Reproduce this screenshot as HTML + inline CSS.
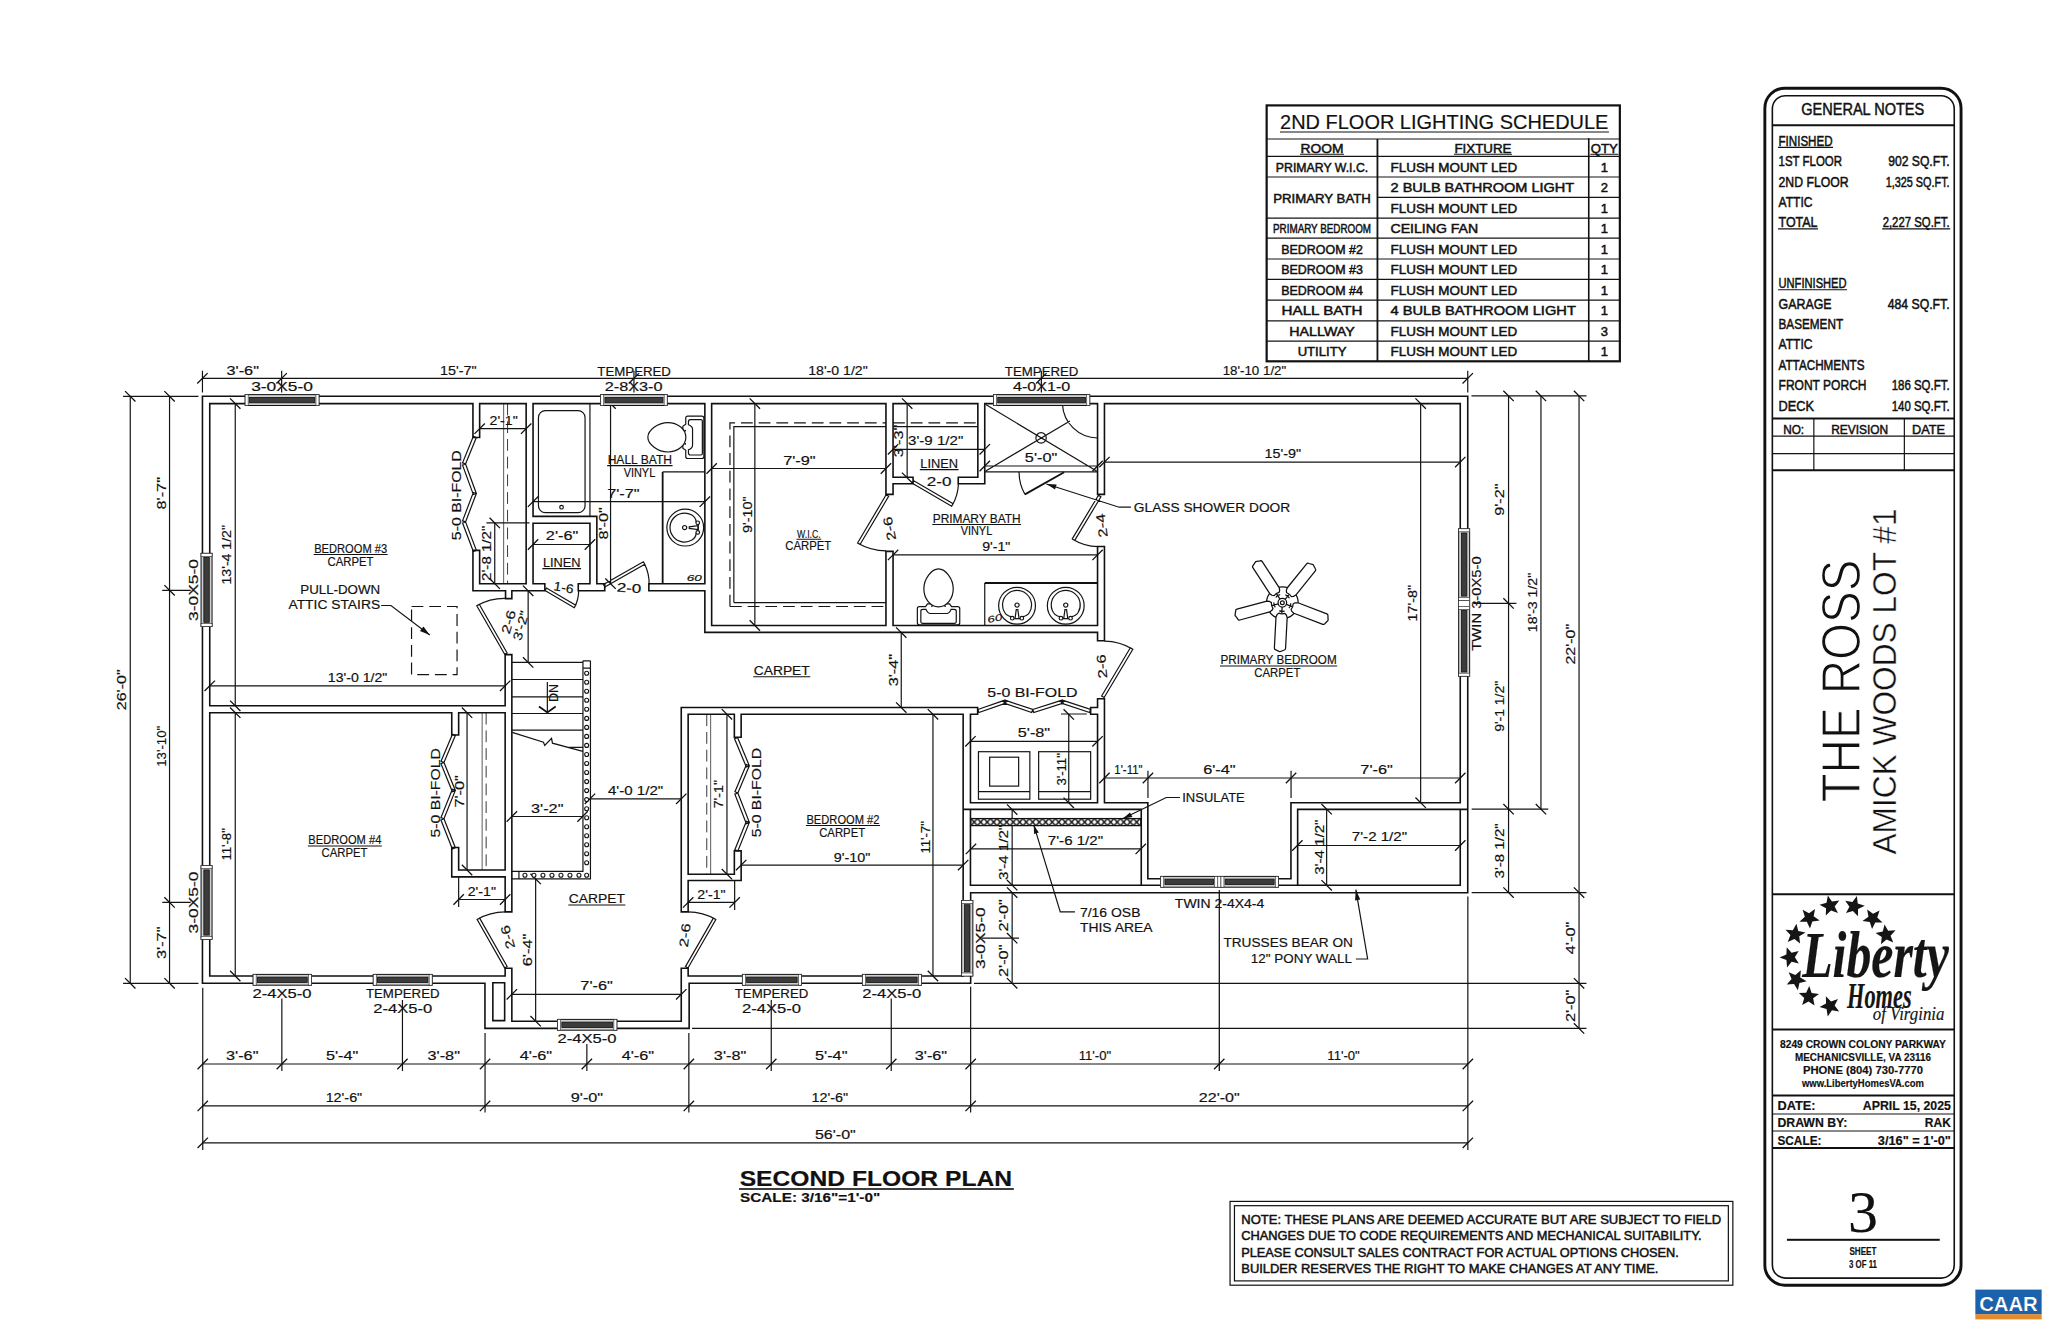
<!DOCTYPE html>
<html lang="en"><head><meta charset="utf-8"><title>Second Floor Plan - The Ross</title><style>
html,body{margin:0;padding:0;background:#fff}
svg{display:block;font-family:"Liberation Sans","DejaVu Sans",sans-serif;font-size:12.6px;fill:#111}
text{stroke:#111;stroke-width:.18}
.w{fill:none;stroke:#111;stroke-width:1.6;stroke-linecap:square}
.t{fill:none;stroke:#141414;stroke-width:1.2}
.k{fill:none;stroke:#111;stroke-width:1.3}
.d{fill:none;stroke:#141414;stroke-width:1.2;stroke-dasharray:11.8 5.9}
.u{fill:none;stroke:#111;stroke-width:1.1}
.b{fill:none;stroke:#111;stroke-width:2}
.g{fill:none;stroke:#111;stroke-width:1.8}
.g2{fill:none;stroke:#111;stroke-width:1.8}
.tn{fill:none;stroke:#141414;stroke-width:1.2}
.tw{fill:#fff;stroke:#141414;stroke-width:1.2}
.tc{fill:#fff;stroke:#141414;stroke-width:1.1}
.wo{fill:#cfcfcf;stroke:#111;stroke-width:1}
.wc{fill:#fff;stroke:#222;stroke-width:.6}
.wd{fill:#3c3c3c;stroke:#111;stroke-width:.8}
.it{font-style:italic}
.c{fill:none;stroke:#4a4a4a;stroke-width:.9}
.cd{fill:none;stroke:#3a3a3a;stroke-width:1;stroke-dasharray:11.8 5.9}
.th1{stroke:#fff;stroke-width:1.3}
.th2{stroke:#fff;stroke-width:.4}
.fn{fill:none;stroke:#111;stroke-width:1.25;stroke-linejoin:round}
.sb{stroke:#111;stroke-width:.5}
.lg{font-family:"Liberation Serif","DejaVu Serif",serif;font-style:italic;font-weight:bold;fill:#151515}
.lg2{font-family:"Liberation Serif","DejaVu Serif",serif;font-style:italic;fill:#151515}
.sr{font-family:"Liberation Serif","DejaVu Serif",serif}
</style></head><body>
<svg width="2048" height="1325" viewBox="0 0 2048 1325">
<defs><pattern id="hx" width="6.5" height="7" patternUnits="userSpaceOnUse" x="970.5" y="818.6"><rect width="6.5" height="7" fill="#fff"/><path d="M0 0L6.5 7M6.5 0L0 7" stroke="#111" stroke-width="1.5"/></pattern></defs>
<g transform="translate(.45 0)">
<path class="c" d="M503.2 403.6L503.2 583.8M481.7 712.7L481.7 870M710.2 714.3L710.2 874.2"/>
<path class="cd" d="M507.1 403.6L507.1 583.8M485.7 712.7L485.7 870M706.3 714.3L706.3 874.2"/>
<path class="t" d="M582.5 668.1L582.5 871.4L511.4 871.4M590 660.8L590 878.9L511.4 878.9M582.5 660.8L590 660.8M582.5 668.1L590 668.1M582.5 660.8L582.5 668.1M518.5 871.4L518.5 878.9M511.4 662.4L582.7 662.4M511.4 679.5L582.7 679.5M511.4 696.8L582.7 696.8M511.4 713.5L582.7 713.5M511.4 730.1L582.7 730.1M511.7 732.4L543 742.3L544.3 745.5L551.1 738.3L552 743.2L582.4 751.4M567.4 747.3L582.4 747.3M546.9 682.1L546.9 712.5M504.2 654.3L476.3 605.7L478.8 604.3L506.7 652.9ZM476.3 605.7A56 56 0 0 1 504.7 598.3M544.5 590.6L573.8 607.8L575.3 605.3L546 588.1ZM573.8 607.8A34 34 0 0 0 578.2 590.6M604.4 586.9L644.3 564.3L642.9 561.8L603 584.4ZM644.3 564.3A45.9 45.9 0 0 1 648.7 584.6M911.8 483.2L951.2 506.3L952.7 503.8L913.3 480.7ZM951.2 506.3A45.7 45.7 0 0 0 958 483.2M885.7 494.8L857.1 543L859.6 544.5L888.2 496.3ZM857.1 543A56 56 0 0 0 885.7 550.8M1098 495.2L1071.8 538.9L1074.3 540.4L1100.5 496.7ZM1071.8 538.9A51 51 0 0 0 1097.5 546.6M1103.7 697.5L1132.4 649.3L1129.9 647.8L1101.2 696ZM1132.4 649.3A56.1 56.1 0 0 0 1104 641.2M504.2 967.9L476.7 919.5L479.2 918.1L506.7 966.5ZM476.7 919.5A55.7 55.7 0 0 1 504.7 911.9M687.5 968L715.4 919.5L712.9 918.1L685 966.6ZM715.4 919.5A56 56 0 0 0 687.7 911.9M1018.6 472.3A45 45 0 0 0 1024.5 494.4M475.9 437.5L465.1 464L462.1 462.8L472.9 436.3ZM465.1 464L475.9 493.5L472.9 494.6L462.1 465.1ZM475.9 493.5L465.1 521.9L462.1 520.8L472.9 492.4ZM465.1 521.9L475.9 550.4L472.9 551.5L462.1 523ZM454.9 735.4L443.5 762.5L440.6 761.3L452 734.2ZM443.5 762.5L454.9 790.4L451.9 791.6L440.5 763.7ZM454.9 790.4L443.5 818.8L440.5 817.6L451.9 789.2ZM443.5 818.8L454.9 847.7L451.9 848.9L440.5 820ZM737.1 737.6L748.9 765.8L745.9 767L734.1 738.8ZM748.9 765.8L737.4 793L734.5 791.8L746 764.6ZM737.4 793L748.9 822.4L745.9 823.6L734.4 794.2ZM748.9 822.4L737.4 850.9L734.4 849.7L745.9 821.2ZM977.4 709.5L1004.5 700.1L1005.5 703.1L978.4 712.5ZM1004.5 700.1L1032.3 709.5L1031.3 712.5L1003.5 703.1ZM1032.3 709.5L1061.8 700.1L1062.8 703.1L1033.3 712.5ZM1061.8 700.1L1090.2 709.5L1089.2 712.5L1060.8 703.1ZM733.4 602.6L733.4 426.7L885.5 426.7M733.4 602.6L885.5 602.6M892.6 426.7L977.4 426.7M380.7 605.5L390.5 605.5L429.3 634.9M589.5 403.6L589.5 516.4M662.2 471.9L704.4 471.9M984.3 583L984.3 625.5M984.3 466L1097.1 466M984.3 471.9L1097.1 471.9M985.3 404.6L1096.1 470.9M985.3 470.9L1069.5 420.9M1062 404.5A35.5 35.5 0 0 0 1097.1 438M1130.5 507.2L1118.7 507.2L1046 484M978 791.6L1029.4 791.6M1038.2 791.6L1090.2 791.6M1179.5 797.5L1165.8 797.5L1122.6 818.5M1074.5 911.9L1059.8 911.9L1033.3 824.9M1355.4 959L1367.2 959L1355.4 889.7M202 378.3L1467.3 378.3M202 370.8L202 392.4M281.2 370.8L281.2 392.4M633.5 370.8L633.5 392.4M1040.9 370.8L1040.9 392.4M1467.3 370.8L1467.3 392.4M202.3 1064L1467.4 1064M202.3 1105.9L1467.4 1105.9M202.3 1142.8L1467.4 1142.8M202.3 987.8L202.3 1150M484.6 1033L484.6 1112.5M688.4 1033L688.4 1112.5M970.2 986.8L970.2 1112.5M1467.4 896.5L1467.4 1150M281.4 998.5L281.4 1071M402 1000L402 1071M586.4 1044L586.4 1071M770.8 1000L770.8 1071M890.8 998.5L890.8 1071M1218.8 890.7L1218.8 1071M1471 395.9L1586 395.9M1473 603.4L1516 603.4M1471.2 809.2L1547.8 809.2M1471.2 892.6L1586 892.6M973.5 983.3L1586 983.3M691.6 1028.4L1586 1028.4M1508.1 395.9L1508.1 892.6M1540.5 395.9L1540.5 809.2M1578.6 395.9L1578.6 1028.4M122.6 396.3L198 396.3M161.8 590.3L190.3 590.3M161.8 902.4L190.3 902.4M122.6 983.3L198 983.3M129.8 396.3L129.8 983.3M169.1 396.3L169.1 983.3M234.8 403.6L234.8 705.8M234.8 712.7L234.8 976M209.3 685.8L504.7 685.8M479.2 428.7L525.7 428.7M486 522.9L529 522.9M494.3 522.9L494.3 583.7M532.6 501.7L704.4 501.7M610.1 403.6L610.1 583.7M532.6 544.5L589.5 544.5M527.7 590.8L527.7 662.4M711.2 468.5L885.5 468.5M754.4 403.6L754.4 625.5M892.6 449.3L984.3 449.3M906.7 403.6L906.7 477.8M1104 462.1L1459.8 462.1M1420.2 403.6L1420.2 802.7M892.6 554.9L1097.1 554.9M900.8 632.6L900.8 707.6M589.5 798.8L680.8 798.8M511.4 816.5L582.1 816.5M466.6 712.7L466.6 870M726.5 714.3L726.5 874.2M458.2 877L458.2 907M458.2 899.5L504.7 899.5M734.2 880.8L734.2 910M687.7 902.4L734.2 902.4M535.2 878.9L535.2 1021.2M511.4 994.3L680.8 994.3M740.7 865.1L962.7 865.1M932.5 714.3L932.5 976M970 741.3L1097.1 741.3M1068.3 714.4L1068.3 802.8M1060.5 714L1086.4 714M1104 778L1459.8 778M1147.5 770.7L1147.5 798M1290.6 770.7L1290.6 798M970.5 848.9L1140.3 848.9M1011.7 809.6L1011.7 885.2M1011.7 892.6L1011.7 983.3M981.3 938.2L1018.6 938.2M1296.9 845.5L1459.8 845.5M1326.2 809.2L1326.2 885.3M1218.9 889.9L1218.9 1071M1266.2 139L1619.4 139M1266.2 156.4L1619.4 156.4M1266.2 177L1619.4 177M1376.6 197.3L1619.4 197.3M1266.2 218.1L1619.4 218.1M1266.2 238.2L1619.4 238.2M1266.2 259L1619.4 259M1266.2 279.3L1619.4 279.3M1266.2 300.1L1619.4 300.1M1266.2 320.8L1619.4 320.8M1266.2 341.2L1619.4 341.2M1771.9 436.1L1953.8 436.1M1771.9 453.6L1953.8 453.6M1771.9 1114L1953.8 1114M1771.9 1131L1953.8 1131M1813.4 418.6L1813.4 470.2M1903.9 418.6L1903.9 470.2"/>
<path class="d" d="M729.5 606.5L729.5 422.8L885.5 422.8M729.5 606.5L885.5 606.5M892.6 422.8L977.4 422.8M411.1 606.5L456.6 606.5L456.6 674.6L411.1 674.6L411.1 606.5"/>
<path class="w" d="M202 396.3L1467.3 396.3L1467.3 892.8L970.2 892.8L970.2 983.3L688.7 983.3L688.7 1028.4L484.5 1028.4L484.5 983.3L202 983.3ZM209.3 403.6L472.5 403.6M479.2 403.6L525.7 403.6M532.6 403.6L704.4 403.6M711.2 403.6L885.5 403.6M892.6 403.6L977.4 403.6M984.3 403.6L1097.1 403.6M1104 403.6L1459.8 403.6M209.3 403.6L209.3 705.8M209.3 712.7L209.3 976M209.3 976L504.7 976L504.7 968.2L511.4 968.2L511.4 1021.2L680.8 1021.2L680.8 968.2L687.7 968.2L687.7 976L962.7 976M1459.8 403.6L1459.8 802.7M1459.8 809.4L1459.8 885.3M492.4 982.8L504.2 982.8L504.2 1020.6L492.4 1020.6ZM472.5 403.6L472.5 437.5L479.2 437.5L479.2 403.6M479.2 583.8L479.2 550.4L472.5 550.4L472.5 590.7L505.1 590.7L505.1 598.6L511.4 598.6L511.4 590.7L544.4 590.7L544.4 583.8L532.6 583.8M479.2 583.8L525.7 583.8L525.7 403.6M532.6 403.6L532.6 516.4L596.4 516.4L596.4 583.8L604.3 583.8L604.3 590.7L577.8 590.7L577.8 583.8L589.5 583.8L589.5 523.3L532.6 523.3L532.6 583.8M704.4 583.8L648.4 583.8L648.4 590.7L704.4 590.7L704.4 632.4L1097.1 632.4L1097.1 640.8L1104 640.8L1104 546.5L1097.1 546.5L1097.1 625.5L892.6 625.5L892.6 551.4L885.5 551.4L885.5 625.5L711.2 625.5L711.2 403.6M704.4 403.6L704.4 583.8M885.5 403.6L885.5 494.4L892.6 494.4L892.6 483.7L912.6 483.7L912.6 477.3L892.6 477.3L892.6 403.6M977.4 403.6L977.4 477.3L957.8 477.3L957.8 483.7L984.3 483.7L984.3 403.6M1097.1 403.6L1097.1 494.4L1104 494.4L1104 403.6M1104 698.7L1097.1 698.7L1097.1 707.5L1090.2 707.5L1090.2 714.3L1097.1 714.3L1097.1 802.7L970 802.7M1104 698.7L1104 802.7L1147.4 802.7L1147.4 878.8L1160.3 878.8M962.7 809.4L1140.8 809.4L1140.8 885.3M970 885.3L1160.3 885.3M1277.9 878.8L1290.5 878.8L1290.5 802.7L1459.8 802.7M1277.9 885.3L1459.8 885.3M1467.3 809.4L1297.2 809.4L1297.2 885.3M962.7 714.3L962.7 976M970 714.3L970 802.7M970 809.4L970 885.3M687.7 911.9L680.8 911.9L680.8 707.5L977.2 707.5L977.2 714.3L970 714.3M687.7 714.3L733.9 714.3L733.9 737.2L740.7 737.2L740.7 714.3L962.7 714.3M687.7 714.3L687.7 874.2L733.9 874.2L733.9 850.9L740.7 850.9L740.7 880.5L687.7 880.5L687.7 911.9M504.7 705.8L504.7 654.6L511.4 654.6L511.4 911.9L504.7 911.9L504.7 876.9L451.3 876.9L451.3 847.5L458.2 847.5L458.2 870L504.7 870L504.7 712.7M209.3 705.8L504.7 705.8M209.3 712.7L451.3 712.7L451.3 735L458.2 735L458.2 712.7L504.7 712.7M1588.3 139L1588.3 361.3"/>
<path class="b" d="M1771.9 125.3L1953.8 125.3M1771.9 418.6L1953.8 418.6M1771.9 470.2L1953.8 470.2M1771.9 894.3L1953.8 894.3M1771.9 1029.6L1953.8 1029.6M1771.9 1095.6L1953.8 1095.6M1771.9 1147.9L1953.8 1147.9"/>
<path class="g" d="M538.5 706.6L546.9 712.5L555.2 706.6M1024.5 494.4L1063.7 472.3"/>
<path class="g2" d="M662.2 471.9L662.2 583.8M984.3 583L1097.1 583M1377 139L1377 361.3"/>
<path class="k" d="M196.8 383.5L207.2 373.1M276 383.5L286.4 373.1M628.3 383.5L638.7 373.1M1035.7 383.5L1046.1 373.1M1462.1 383.5L1472.5 373.1M197.1 1069.2L207.5 1058.8M276.2 1069.2L286.6 1058.8M396.8 1069.2L407.2 1058.8M479.4 1069.2L489.8 1058.8M581.2 1069.2L591.6 1058.8M683.2 1069.2L693.6 1058.8M765.6 1069.2L776 1058.8M885.6 1069.2L896 1058.8M965 1069.2L975.4 1058.8M1213.6 1069.2L1224 1058.8M1462.2 1069.2L1472.6 1058.8M197.1 1111.1L207.5 1100.7M479.4 1111.1L489.8 1100.7M683.2 1111.1L693.6 1100.7M965 1111.1L975.4 1100.7M1462.2 1111.1L1472.6 1100.7M197.1 1148L207.5 1137.6M1462.2 1148L1472.6 1137.6M1502.9 390.7L1513.3 401.1M1502.9 598.2L1513.3 608.6M1502.9 804L1513.3 814.4M1502.9 887.4L1513.3 897.8M1535.3 390.7L1545.7 401.1M1535.3 804L1545.7 814.4M1573.4 390.7L1583.8 401.1M1573.4 887.4L1583.8 897.8M1573.4 978.1L1583.8 988.5M1573.4 1023.2L1583.8 1033.6M124.6 391.1L135 401.5M124.6 978.1L135 988.5M163.9 391.1L174.3 401.5M163.9 585.1L174.3 595.5M163.9 897.2L174.3 907.6M163.9 978.1L174.3 988.5M229.6 398.4L240 408.8M229.6 700.6L240 711M229.6 707.5L240 717.9M229.6 970.8L240 981.2M204.1 691L214.5 680.6M499.5 691L509.9 680.6M474 433.9L484.4 423.5M520.5 433.9L530.9 423.5M489.1 517.7L499.5 528.1M489.1 578.5L499.5 588.9M527.4 506.9L537.8 496.5M699.2 506.9L709.6 496.5M604.9 398.4L615.3 408.8M604.9 578.5L615.3 588.9M527.4 549.7L537.8 539.3M584.3 549.7L594.7 539.3M522.5 585.6L532.9 596M522.5 657.2L532.9 667.6M706 473.7L716.4 463.3M880.3 473.7L890.7 463.3M749.2 398.4L759.6 408.8M749.2 620.3L759.6 630.7M887.4 454.5L897.8 444.1M979.1 454.5L989.5 444.1M901.5 398.4L911.9 408.8M901.5 472.6L911.9 483M979.1 471.2L989.5 460.8M1091.9 471.2L1102.3 460.8M1098.8 467.3L1109.2 456.9M1454.6 467.3L1465 456.9M1415 398.4L1425.4 408.8M1415 797.5L1425.4 807.9M887.4 560.1L897.8 549.7M1091.9 560.1L1102.3 549.7M895.6 627.4L906 637.8M895.6 702.4L906 712.8M584.3 804L594.7 793.6M675.6 804L686 793.6M506.2 821.7L516.6 811.3M576.9 821.7L587.3 811.3M461.4 707.5L471.8 717.9M461.4 864.8L471.8 875.2M721.3 709.1L731.7 719.5M721.3 869L731.7 879.4M453 904.7L463.4 894.3M499.5 904.7L509.9 894.3M682.5 907.6L692.9 897.2M729 907.6L739.4 897.2M530 873.7L540.4 884.1M530 1016L540.4 1026.4M506.2 999.5L516.6 989.1M675.6 999.5L686 989.1M735.5 870.3L745.9 859.9M957.5 870.3L967.9 859.9M927.3 709.1L937.7 719.5M927.3 970.8L937.7 981.2M964.8 746.5L975.2 736.1M1091.9 746.5L1102.3 736.1M1063.1 709.2L1073.5 719.6M1063.1 797.6L1073.5 808M1098.8 783.2L1109.2 772.8M1142.3 783.2L1152.7 772.8M1285.4 783.2L1295.8 772.8M1454.6 783.2L1465 772.8M965.3 854.1L975.7 843.7M1135.1 854.1L1145.5 843.7M1006.5 804.4L1016.9 814.8M1006.5 880L1016.9 890.4M1006.5 887.4L1016.9 897.8M1006.5 933L1016.9 943.4M1006.5 978.1L1016.9 988.5M1291.7 850.7L1302.1 840.3M1454.6 850.7L1465 840.3M1321 804L1331.4 814.4M1321 880.1L1331.4 890.5"/>
<path class="u" d="M313.2 554.5L387.2 554.5M606.7 465.6L672.1 465.6M541.9 568.6L580.6 568.6M796.1 539.2L820.7 539.2M919.4 469.6L958.1 469.6M931.8 524.5L1020.6 524.5M752.8 676.8L809.8 676.8M567.9 905L624.9 905M307.4 846L381.4 846M805.5 825.5L879.5 825.5M1219.5 666L1336.7 666M1279.5 132L1608.5 132M1299.6 154.3L1343.6 154.3M1453.5 154.3L1511.5 154.3M1589.9 154.3L1617.9 154.3M1777.6 147.4L1832.6 147.4M1777.6 228.9L1817.6 228.9M1881.7 228.9L1949.7 228.9M1777.6 289.8L1846.6 289.8"/>
<circle cx="586.2" cy="673.2" r="2" class="tc"/>
<circle cx="586.2" cy="682.2" r="2" class="tc"/>
<circle cx="586.2" cy="691.3" r="2" class="tc"/>
<circle cx="586.2" cy="700.3" r="2" class="tc"/>
<circle cx="586.2" cy="709.3" r="2" class="tc"/>
<circle cx="586.2" cy="718.4" r="2" class="tc"/>
<circle cx="586.2" cy="727.4" r="2" class="tc"/>
<circle cx="586.2" cy="736.4" r="2" class="tc"/>
<circle cx="586.2" cy="745.4" r="2" class="tc"/>
<circle cx="586.2" cy="754.5" r="2" class="tc"/>
<circle cx="586.2" cy="763.5" r="2" class="tc"/>
<circle cx="586.2" cy="772.5" r="2" class="tc"/>
<circle cx="586.2" cy="781.6" r="2" class="tc"/>
<circle cx="586.2" cy="790.6" r="2" class="tc"/>
<circle cx="586.2" cy="799.6" r="2" class="tc"/>
<circle cx="586.2" cy="808.7" r="2" class="tc"/>
<circle cx="586.2" cy="817.7" r="2" class="tc"/>
<circle cx="586.2" cy="826.7" r="2" class="tc"/>
<circle cx="586.2" cy="835.7" r="2" class="tc"/>
<circle cx="586.2" cy="844.8" r="2" class="tc"/>
<circle cx="586.2" cy="853.8" r="2" class="tc"/>
<circle cx="586.2" cy="862.8" r="2" class="tc"/>
<circle cx="524.5" cy="875.2" r="2" class="tc"/>
<circle cx="533.5" cy="875.2" r="2" class="tc"/>
<circle cx="542.5" cy="875.2" r="2" class="tc"/>
<circle cx="551.5" cy="875.2" r="2" class="tc"/>
<circle cx="560.5" cy="875.2" r="2" class="tc"/>
<circle cx="569.5" cy="875.2" r="2" class="tc"/>
<circle cx="578.5" cy="875.2" r="2" class="tc"/>
<circle cx="586.2" cy="875.2" r="2" class="tc"/>
<path d="M429.3 634.9L419.5 631L423 626.5Z" fill="#111"/>
<rect x="244.7" y="394.6" width="73.8" height="10.9" class="wo"/>
<rect x="244.7" y="394.6" width="3" height="10.9" class="wc"/>
<rect x="315.5" y="394.6" width="3" height="10.9" class="wc"/>
<rect x="248.9" y="397.4" width="65.4" height="5.4" class="wd"/>
<rect x="600.3" y="394.6" width="66.4" height="10.9" class="wo"/>
<rect x="600.3" y="394.6" width="3" height="10.9" class="wc"/>
<rect x="663.7" y="394.6" width="3" height="10.9" class="wc"/>
<rect x="604.5" y="397.4" width="58" height="5.4" class="wd"/>
<rect x="993.1" y="394.6" width="96.2" height="10.9" class="wo"/>
<rect x="993.1" y="394.6" width="3" height="10.9" class="wc"/>
<rect x="1086.3" y="394.6" width="3" height="10.9" class="wc"/>
<rect x="997.3" y="397.4" width="87.8" height="5.4" class="wd"/>
<rect x="200.6" y="553.3" width="11" height="73.2" class="wo"/>
<rect x="200.6" y="553.3" width="11" height="3" class="wc"/>
<rect x="200.6" y="623.5" width="11" height="3" class="wc"/>
<rect x="203.4" y="557.5" width="5.4" height="64.8" class="wd"/>
<rect x="200.6" y="865.7" width="11" height="73.6" class="wo"/>
<rect x="200.6" y="865.7" width="11" height="3" class="wc"/>
<rect x="200.6" y="936.3" width="11" height="3" class="wc"/>
<rect x="203.4" y="869.9" width="5.4" height="65.2" class="wd"/>
<rect x="252.7" y="974.4" width="58.3" height="10.8" class="wo"/>
<rect x="252.7" y="974.4" width="3" height="10.8" class="wc"/>
<rect x="308" y="974.4" width="3" height="10.8" class="wc"/>
<rect x="256.9" y="977.1" width="49.9" height="5.4" class="wd"/>
<rect x="372.8" y="974.4" width="58.9" height="10.8" class="wo"/>
<rect x="372.8" y="974.4" width="3" height="10.8" class="wc"/>
<rect x="428.7" y="974.4" width="3" height="10.8" class="wc"/>
<rect x="377" y="977.1" width="50.5" height="5.4" class="wd"/>
<rect x="557.2" y="1019.4" width="59.2" height="10.8" class="wo"/>
<rect x="557.2" y="1019.4" width="3" height="10.8" class="wc"/>
<rect x="613.4" y="1019.4" width="3" height="10.8" class="wc"/>
<rect x="561.4" y="1022.1" width="50.8" height="5.4" class="wd"/>
<rect x="742" y="974.4" width="58.9" height="10.8" class="wo"/>
<rect x="742" y="974.4" width="3" height="10.8" class="wc"/>
<rect x="797.9" y="974.4" width="3" height="10.8" class="wc"/>
<rect x="746.2" y="977.1" width="50.5" height="5.4" class="wd"/>
<rect x="862" y="974.4" width="58.9" height="10.8" class="wo"/>
<rect x="862" y="974.4" width="3" height="10.8" class="wc"/>
<rect x="917.9" y="974.4" width="3" height="10.8" class="wc"/>
<rect x="866.2" y="977.1" width="50.5" height="5.4" class="wd"/>
<rect x="961.2" y="900.5" width="11.2" height="75.5" class="wo"/>
<rect x="961.2" y="900.5" width="11.2" height="3" class="wc"/>
<rect x="961.2" y="973" width="11.2" height="3" class="wc"/>
<rect x="964.1" y="904.7" width="5.4" height="67.1" class="wd"/>
<rect x="1458.2" y="528.8" width="11" height="147.4" class="wo"/>
<rect x="1458.2" y="600.3" width="11" height="6" class="wc"/>
<rect x="1458.2" y="528.8" width="11" height="3" class="wc"/>
<rect x="1458.2" y="597.3" width="11" height="3" class="wc"/>
<rect x="1461" y="533" width="5.4" height="63.1" class="wd"/>
<rect x="1458.2" y="606.3" width="11" height="3" class="wc"/>
<rect x="1458.2" y="673.2" width="11" height="3" class="wc"/>
<rect x="1461" y="610.5" width="5.4" height="61.5" class="wd"/>
<rect x="1160.3" y="876.4" width="117.6" height="10.8" class="wo"/>
<rect x="1217.3" y="876.4" width="3.2" height="10.8" class="wc"/>
<rect x="1160.3" y="876.4" width="3" height="10.8" class="wc"/>
<rect x="1214.3" y="876.4" width="3" height="10.8" class="wc"/>
<rect x="1164.5" y="879.1" width="48.6" height="5.4" class="wd"/>
<rect x="1220.5" y="876.4" width="3" height="10.8" class="wc"/>
<rect x="1274.9" y="876.4" width="3" height="10.8" class="wc"/>
<rect x="1224.7" y="879.1" width="49" height="5.4" class="wd"/>
<rect x="538" y="410.6" width="46.6" height="102.1" rx="7" class="tn"/>
<circle cx="561.1" cy="507.2" r="1.8" class="tn"/>
<g transform="translate(666.4 437.3)"><path d="M18.9 -19.2Q18.9 -21.2 20.9 -21.2H35Q37 -21.2 37 -19.2V19.2Q37 21.2 35 21.2H20.9Q18.9 21.2 18.9 19.2V13L16 11V-11L18.9 -13Z" class="tw"/><path d="M23.4 -17.7H34Q35.5 -17.7 35.5 -16.2V16.2Q35.5 17.7 34 17.7H23.4Q21.6 17.7 21.6 15.5V12.5Q25.7 11 25.7 8V-8Q25.7 -11 21.6 -12.5V-15.5Q21.6 -17.7 23.4 -17.7Z" class="tn"/><path d="M19 0C19 8.5 10.5 14.7 1 14.7C-9 14.7 -19 7 -19 0C-19 -7 -9 -14.7 1 -14.7C10.5 -14.7 19 -8.5 19 0Z" class="tw"/><circle cx="18.3" cy="-6.6" r=".9" fill="#111"/><circle cx="18.3" cy="6.6" r=".9" fill="#111"/></g>
<g transform="translate(684.8 527.6) rotate(-90)" class="tn"><circle r="18.4"/><path d="M-5.5 10.9Q-10 10.6 -12.5 6.6A14.5 14.5 0 1 1 12.5 6.6Q10 10.6 5.5 10.9"/><circle cx="0" cy="-.6" r="2.1"/><path d="M-.8 4H.8L2 12.8H-2Z"/><path d="M-3 13H3"/><circle cx="-4.8" cy="12.5" r="1.8" fill="#fff"/><circle cx="4.8" cy="12.5" r="1.8" fill="#fff"/></g>
<g transform="translate(938.1 587.8) rotate(90)"><path d="M18.9 -19.2Q18.9 -21.2 20.9 -21.2H35Q37 -21.2 37 -19.2V19.2Q37 21.2 35 21.2H20.9Q18.9 21.2 18.9 19.2V13L16 11V-11L18.9 -13Z" class="tw"/><path d="M23.4 -17.7H34Q35.5 -17.7 35.5 -16.2V16.2Q35.5 17.7 34 17.7H23.4Q21.6 17.7 21.6 15.5V12.5Q25.7 11 25.7 8V-8Q25.7 -11 21.6 -12.5V-15.5Q21.6 -17.7 23.4 -17.7Z" class="tn"/><path d="M19 0C19 8.5 10.5 14.7 1 14.7C-9 14.7 -19 7 -19 0C-19 -7 -9 -14.7 1 -14.7C10.5 -14.7 19 -8.5 19 0Z" class="tw"/><circle cx="18.3" cy="-6.6" r=".9" fill="#111"/><circle cx="18.3" cy="6.6" r=".9" fill="#111"/></g>
<g transform="translate(1016.6 605.7) rotate(0)" class="tn"><circle r="18.4"/><path d="M-5.5 10.9Q-10 10.6 -12.5 6.6A14.5 14.5 0 1 1 12.5 6.6Q10 10.6 5.5 10.9"/><circle cx="0" cy="-.6" r="2.1"/><path d="M-.8 4H.8L2 12.8H-2Z"/><path d="M-3 13H3"/><circle cx="-4.8" cy="12.5" r="1.8" fill="#fff"/><circle cx="4.8" cy="12.5" r="1.8" fill="#fff"/></g>
<g transform="translate(1065.3 605.7) rotate(0)" class="tn"><circle r="18.4"/><path d="M-5.5 10.9Q-10 10.6 -12.5 6.6A14.5 14.5 0 1 1 12.5 6.6Q10 10.6 5.5 10.9"/><circle cx="0" cy="-.6" r="2.1"/><path d="M-.8 4H.8L2 12.8H-2Z"/><path d="M-3 13H3"/><circle cx="-4.8" cy="12.5" r="1.8" fill="#fff"/><circle cx="4.8" cy="12.5" r="1.8" fill="#fff"/></g>
<circle cx="1040.6" cy="437.9" r="5.2" class="tn"/>
<path d="M1046 484L1056.2 484.6L1054.6 489.4Z" fill="#111"/>
<rect x="978" y="751.7" width="51.4" height="47.5" class="tn"/>
<rect x="989.2" y="757.2" width="29" height="28.9" class="tw"/>
<rect x="1038.2" y="751.7" width="52" height="47.5" class="tn"/>
<rect x="970.5" y="818.6" width="169.8" height="7" fill="url(#hx)" stroke="#111" stroke-width="1.3"/>
<path d="M1122.6 818.5L1129.5 812.5L1132 817Z" fill="#111"/>
<path d="M1033.3 824.9L1033.6 834L1038.4 832.5Z" fill="#111"/>
<path d="M1355.4 889.7L1354.6 900.5L1359.8 899.6Z" fill="#111"/>
<g transform="translate(1281.9 602.8)" class="fn"><circle r="15.8"/><path transform="rotate(21)" d="M10.5 -3L12 -4.6L14.5 -5.6H45.5Q47 -5.6 47.3 -4L49 0L47.3 4Q47 5.6 45.5 5.6H14.5L12 4.6L10.5 3Q11.6 0 10.5 -3Z" fill="#fff"/><path transform="rotate(93)" d="M10.5 -3L12 -4.6L14.5 -5.6H45.5Q47 -5.6 47.3 -4L49 0L47.3 4Q47 5.6 45.5 5.6H14.5L12 4.6L10.5 3Q11.6 0 10.5 -3Z" fill="#fff"/><path transform="rotate(165)" d="M10.5 -3L12 -4.6L14.5 -5.6H45.5Q47 -5.6 47.3 -4L49 0L47.3 4Q47 5.6 45.5 5.6H14.5L12 4.6L10.5 3Q11.6 0 10.5 -3Z" fill="#fff"/><path transform="rotate(237)" d="M10.5 -3L12 -4.6L14.5 -5.6H45.5Q47 -5.6 47.3 -4L49 0L47.3 4Q47 5.6 45.5 5.6H14.5L12 4.6L10.5 3Q11.6 0 10.5 -3Z" fill="#fff"/><path transform="rotate(309)" d="M10.5 -3L12 -4.6L14.5 -5.6H45.5Q47 -5.6 47.3 -4L49 0L47.3 4Q47 5.6 45.5 5.6H14.5L12 4.6L10.5 3Q11.6 0 10.5 -3Z" fill="#fff"/><circle r="4.3"/><circle r="1.9"/><path transform="rotate(21)" d="M4.3 0H10.6M8 -2.6Q9.4 0 8 2.6"/><path transform="rotate(93)" d="M4.3 0H10.6M8 -2.6Q9.4 0 8 2.6"/><path transform="rotate(165)" d="M4.3 0H10.6M8 -2.6Q9.4 0 8 2.6"/><path transform="rotate(237)" d="M4.3 0H10.6M8 -2.6Q9.4 0 8 2.6"/><path transform="rotate(309)" d="M4.3 0H10.6M8 -2.6Q9.4 0 8 2.6"/></g>
<rect x="738.6" y="1188.2" width="274.8" height="1.6" fill="#111"/>
<rect x="1266.2" y="105.4" width="353.2" height="255.9" fill="none" stroke="#111" stroke-width="2.2"/>
<rect x="1764.4" y="88.2" width="196.2" height="1197" rx="20" fill="none" stroke="#111" stroke-width="2.9"/>
<rect x="1771.9" y="95.7" width="181.9" height="1182.4" rx="13" fill="none" stroke="#111" stroke-width="1.6"/>
<path d="M1827.4 895.5L1831.5 901.6L1838.8 900.6L1834.2 906.4L1837.5 913L1830.6 910.5L1825.3 915.6L1825.6 908.2L1819.1 904.8L1826.1 902.8Z" fill="#151515"/>
<path d="M1856.4 896.1L1857.3 903.4L1864.3 905.8L1857.6 908.9L1857.5 916.3L1852.5 910.9L1845.5 913.1L1849 906.7L1844.8 900.7L1852 902.1Z" fill="#151515"/>
<path d="M1879.1 910.4L1876.8 917.4L1882.1 922.5L1874.8 922.5L1871.6 929.1L1869.3 922.1L1862 921.1L1868 916.8L1866.7 909.5L1872.6 913.8Z" fill="#151515"/>
<path d="M1895.1 930.3L1890.1 935.7L1892.8 942.6L1886.1 939.5L1880.5 944.2L1881.3 936.9L1875.1 933L1882.3 931.5L1884.1 924.4L1887.7 930.8Z" fill="#151515"/>
<path d="M1802.2 909.7L1808.6 913.2L1814.6 909L1813.2 916.2L1819.2 920.6L1811.9 921.5L1809.5 928.5L1806.4 921.8L1799 921.8L1804.4 916.7Z" fill="#151515"/>
<path d="M1785.1 929.7L1792.4 930.2L1796 923.8L1797.8 930.9L1805 932.4L1798.8 936.3L1799.6 943.6L1794 938.9L1787.3 941.9L1790 935.1Z" fill="#151515"/>
<path d="M1779.1 957.5L1785.9 954.6L1786.3 947.3L1791.1 952.8L1798.2 950.9L1794.4 957.2L1798.4 963.4L1791.2 961.7L1786.6 967.4L1786 960.1Z" fill="#151515"/>
<path d="M1786.3 984.6L1791.1 979L1788.2 972.3L1794.9 975.1L1800.4 970.2L1799.8 977.6L1806.2 981.3L1799 983L1797.4 990.2L1793.6 983.9Z" fill="#151515"/>
<path d="M1801.7 1005L1803.8 997.9L1798.4 993L1805.7 992.8L1808.8 986.1L1811.2 993.1L1818.5 993.9L1812.7 998.3L1814.1 1005.6L1808.1 1001.4Z" fill="#151515"/>
<path d="M1827.3 1016.4L1826.1 1009.1L1819.1 1007L1825.6 1003.6L1825.4 996.3L1830.6 1001.4L1837.5 999L1834.2 1005.5L1838.7 1011.4L1831.5 1010.3Z" fill="#151515"/>
<rect x="1786.5" y="1238.8" width="152.8" height="2" fill="#111"/>
<rect x="1229.6" y="1201.4" width="502.8" height="83.8" fill="none" stroke="#111" stroke-width="1.2"/>
<rect x="1234" y="1205.7" width="493.9" height="75.2" fill="none" stroke="#111" stroke-width="1.2"/>
<rect x="1974.9" y="1289.6" width="66.3" height="24.8" fill="#1b62ae"/><rect x="1974.9" y="1314.2" width="66.3" height="5.2" fill="#e38a2d"/>
<text x="693.8" y="581" text-anchor="middle" font-size="9" textLength="15" lengthAdjust="spacingAndGlyphs" class="it">60</text>
<text text-anchor="middle" font-size="9" textLength="15" lengthAdjust="spacingAndGlyphs" class="it" transform="translate(995 621.5) rotate(-12)">60</text>
<text x="242.3" y="374.6" text-anchor="middle" textLength="32.4" lengthAdjust="spacingAndGlyphs">3'-6&quot;</text>
<text x="457.9" y="374.6" text-anchor="middle" textLength="36.6" lengthAdjust="spacingAndGlyphs">15'-7&quot;</text>
<text x="837.5" y="374.6" text-anchor="middle" textLength="59.4" lengthAdjust="spacingAndGlyphs">18'-0 1/2&quot;</text>
<text x="1254" y="374.6" text-anchor="middle" textLength="63.6" lengthAdjust="spacingAndGlyphs">18'-10 1/2&quot;</text>
<text x="241.8" y="1060" text-anchor="middle" textLength="32.4" lengthAdjust="spacingAndGlyphs">3'-6&quot;</text>
<text x="341.7" y="1060" text-anchor="middle" textLength="32.4" lengthAdjust="spacingAndGlyphs">5'-4&quot;</text>
<text x="443.3" y="1060" text-anchor="middle" textLength="32.4" lengthAdjust="spacingAndGlyphs">3'-8&quot;</text>
<text x="535.5" y="1060" text-anchor="middle" textLength="32.4" lengthAdjust="spacingAndGlyphs">4'-6&quot;</text>
<text x="637.4" y="1060" text-anchor="middle" textLength="32.4" lengthAdjust="spacingAndGlyphs">4'-6&quot;</text>
<text x="729.6" y="1060" text-anchor="middle" textLength="32.4" lengthAdjust="spacingAndGlyphs">3'-8&quot;</text>
<text x="830.8" y="1060" text-anchor="middle" textLength="32.4" lengthAdjust="spacingAndGlyphs">5'-4&quot;</text>
<text x="930.5" y="1060" text-anchor="middle" textLength="32.4" lengthAdjust="spacingAndGlyphs">3'-6&quot;</text>
<text x="1094.5" y="1060" text-anchor="middle" textLength="32.4" lengthAdjust="spacingAndGlyphs">11'-0&quot;</text>
<text x="1343.1" y="1060" text-anchor="middle" textLength="32.4" lengthAdjust="spacingAndGlyphs">11'-0&quot;</text>
<text x="343.5" y="1101.8" text-anchor="middle" textLength="36.6" lengthAdjust="spacingAndGlyphs">12'-6&quot;</text>
<text x="586.5" y="1101.8" text-anchor="middle" textLength="32.4" lengthAdjust="spacingAndGlyphs">9'-0&quot;</text>
<text x="829.3" y="1101.8" text-anchor="middle" textLength="36.6" lengthAdjust="spacingAndGlyphs">12'-6&quot;</text>
<text x="1218.8" y="1101.8" text-anchor="middle" textLength="40.8" lengthAdjust="spacingAndGlyphs">22'-0&quot;</text>
<text x="834.9" y="1138.7" text-anchor="middle" textLength="40.8" lengthAdjust="spacingAndGlyphs">56'-0&quot;</text>
<text text-anchor="middle" textLength="32.4" lengthAdjust="spacingAndGlyphs" transform="translate(1504 499.6) rotate(-90)">9'-2&quot;</text>
<text text-anchor="middle" textLength="51" lengthAdjust="spacingAndGlyphs" transform="translate(1504 706.3) rotate(-90)">9'-1 1/2&quot;</text>
<text text-anchor="middle" textLength="55.2" lengthAdjust="spacingAndGlyphs" transform="translate(1504 850.9) rotate(-90)">3'-8 1/2&quot;</text>
<text text-anchor="middle" textLength="59.4" lengthAdjust="spacingAndGlyphs" transform="translate(1536.5 602.5) rotate(-90)">18'-3 1/2&quot;</text>
<text text-anchor="middle" textLength="40.8" lengthAdjust="spacingAndGlyphs" transform="translate(1574.6 644.2) rotate(-90)">22'-0&quot;</text>
<text text-anchor="middle" textLength="32.4" lengthAdjust="spacingAndGlyphs" transform="translate(1574.6 938) rotate(-90)">4'-0&quot;</text>
<text text-anchor="middle" textLength="32.4" lengthAdjust="spacingAndGlyphs" transform="translate(1574.6 1005.9) rotate(-90)">2'-0&quot;</text>
<text text-anchor="middle" textLength="40.8" lengthAdjust="spacingAndGlyphs" transform="translate(125.8 689.8) rotate(-90)">26'-0&quot;</text>
<text text-anchor="middle" textLength="32.4" lengthAdjust="spacingAndGlyphs" transform="translate(165.1 493.3) rotate(-90)">8'-7&quot;</text>
<text text-anchor="middle" textLength="40.8" lengthAdjust="spacingAndGlyphs" transform="translate(165.1 746.3) rotate(-90)">13'-10&quot;</text>
<text text-anchor="middle" textLength="32.4" lengthAdjust="spacingAndGlyphs" transform="translate(165.1 942.8) rotate(-90)">3'-7&quot;</text>
<text text-anchor="middle" textLength="59.4" lengthAdjust="spacingAndGlyphs" transform="translate(231 554.8) rotate(-90)">13'-4 1/2&quot;</text>
<text text-anchor="middle" textLength="32.4" lengthAdjust="spacingAndGlyphs" transform="translate(231 844.4) rotate(-90)">11'-8&quot;</text>
<text x="357.1" y="681.6" text-anchor="middle" textLength="59.4" lengthAdjust="spacingAndGlyphs">13'-0 1/2&quot;</text>
<text x="503.2" y="424.8" text-anchor="middle" textLength="28.2" lengthAdjust="spacingAndGlyphs">2'-1&quot;</text>
<text text-anchor="middle" textLength="55.2" lengthAdjust="spacingAndGlyphs" transform="translate(490.6 553.3) rotate(-90)">2'-8 1/2&quot;</text>
<text x="622.9" y="497.5" text-anchor="middle" textLength="32.4" lengthAdjust="spacingAndGlyphs">7'-7&quot;</text>
<text text-anchor="middle" textLength="32.4" lengthAdjust="spacingAndGlyphs" transform="translate(607.2 523.4) rotate(-90)">8'-0&quot;</text>
<text x="561.6" y="539.8" text-anchor="middle" textLength="32.4" lengthAdjust="spacingAndGlyphs">2'-6&quot;</text>
<text x="798.9" y="465" text-anchor="middle" textLength="32.4" lengthAdjust="spacingAndGlyphs">7'-9&quot;</text>
<text text-anchor="middle" textLength="36.6" lengthAdjust="spacingAndGlyphs" transform="translate(751.5 514.6) rotate(-90)">9'-10&quot;</text>
<text x="935.2" y="445.4" text-anchor="middle" textLength="55.2" lengthAdjust="spacingAndGlyphs">3'-9 1/2&quot;</text>
<text text-anchor="middle" textLength="32.4" lengthAdjust="spacingAndGlyphs" transform="translate(902.6 441) rotate(-90)">3'-3&quot;</text>
<text x="1040.6" y="462" text-anchor="middle" textLength="32.4" lengthAdjust="spacingAndGlyphs">5'-0&quot;</text>
<text x="1282.4" y="457.8" text-anchor="middle" textLength="36.6" lengthAdjust="spacingAndGlyphs">15'-9&quot;</text>
<text text-anchor="middle" textLength="36.6" lengthAdjust="spacingAndGlyphs" transform="translate(1417 603.1) rotate(-90)">17'-8&quot;</text>
<text x="995.8" y="550.5" text-anchor="middle" textLength="28.2" lengthAdjust="spacingAndGlyphs">9'-1&quot;</text>
<text text-anchor="middle" textLength="32.4" lengthAdjust="spacingAndGlyphs" transform="translate(897.6 670.1) rotate(-90)">3'-4&quot;</text>
<text x="635.1" y="794.9" text-anchor="middle" textLength="55.2" lengthAdjust="spacingAndGlyphs">4'-0 1/2&quot;</text>
<text x="546.8" y="812.6" text-anchor="middle" textLength="32.4" lengthAdjust="spacingAndGlyphs">3'-2&quot;</text>
<text text-anchor="middle" textLength="32.4" lengthAdjust="spacingAndGlyphs" transform="translate(463.2 791.4) rotate(-90)">7'-0&quot;</text>
<text text-anchor="middle" textLength="28.2" lengthAdjust="spacingAndGlyphs" transform="translate(722.8 794.2) rotate(-90)">7'-1&quot;</text>
<text x="481.4" y="895.6" text-anchor="middle" textLength="28.2" lengthAdjust="spacingAndGlyphs">2'-1&quot;</text>
<text x="711" y="898.5" text-anchor="middle" textLength="28.2" lengthAdjust="spacingAndGlyphs">2'-1&quot;</text>
<text text-anchor="middle" textLength="32.4" lengthAdjust="spacingAndGlyphs" transform="translate(531.8 950) rotate(-90)">6'-4&quot;</text>
<text x="596.1" y="990.4" text-anchor="middle" textLength="32.4" lengthAdjust="spacingAndGlyphs">7'-6&quot;</text>
<text x="851.7" y="862" text-anchor="middle" textLength="36.6" lengthAdjust="spacingAndGlyphs">9'-10&quot;</text>
<text text-anchor="middle" textLength="32.4" lengthAdjust="spacingAndGlyphs" transform="translate(929.6 837.4) rotate(-90)">11'-7&quot;</text>
<text x="1033.5" y="737" text-anchor="middle" textLength="32.4" lengthAdjust="spacingAndGlyphs">5'-8&quot;</text>
<text text-anchor="middle" textLength="32.4" lengthAdjust="spacingAndGlyphs" transform="translate(1065.7 769.4) rotate(-90)">3'-11&quot;</text>
<text x="1128" y="774" text-anchor="middle" textLength="28.2" lengthAdjust="spacingAndGlyphs">1'-11&quot;</text>
<text x="1218.9" y="774" text-anchor="middle" textLength="32.4" lengthAdjust="spacingAndGlyphs">6'-4&quot;</text>
<text x="1376.1" y="774" text-anchor="middle" textLength="32.4" lengthAdjust="spacingAndGlyphs">7'-6&quot;</text>
<text x="1075" y="845.1" text-anchor="middle" textLength="55.2" lengthAdjust="spacingAndGlyphs">7'-6 1/2&quot;</text>
<text text-anchor="middle" textLength="55.2" lengthAdjust="spacingAndGlyphs" transform="translate(1008 852.4) rotate(-90)">3'-4 1/2&quot;</text>
<text text-anchor="middle" textLength="32.4" lengthAdjust="spacingAndGlyphs" transform="translate(1008 915.4) rotate(-90)">2'-0&quot;</text>
<text text-anchor="middle" textLength="32.4" lengthAdjust="spacingAndGlyphs" transform="translate(1008 960.8) rotate(-90)">2'-0&quot;</text>
<text x="1379" y="841" text-anchor="middle" textLength="55.2" lengthAdjust="spacingAndGlyphs">7'-2 1/2&quot;</text>
<text text-anchor="middle" textLength="55.2" lengthAdjust="spacingAndGlyphs" transform="translate(1323.4 847.2) rotate(-90)">3'-4 1/2&quot;</text>
<text x="350.2" y="552.9" text-anchor="middle" textLength="73" lengthAdjust="spacingAndGlyphs">BEDROOM #3</text>
<text x="350" y="566.1" text-anchor="middle" textLength="46" lengthAdjust="spacingAndGlyphs">CARPET</text>
<text x="299.8" y="594" textLength="79.9" lengthAdjust="spacingAndGlyphs">PULL-DOWN</text>
<text x="288" y="609.3" textLength="91.7" lengthAdjust="spacingAndGlyphs">ATTIC STAIRS</text>
<text text-anchor="middle" textLength="89.9" lengthAdjust="spacingAndGlyphs" transform="translate(460.7 495.2) rotate(-90)">5-0 BI-FOLD</text>
<text x="639.4" y="464" text-anchor="middle" textLength="64.4" lengthAdjust="spacingAndGlyphs">HALL BATH</text>
<text x="639" y="476.8" text-anchor="middle" textLength="31.6" lengthAdjust="spacingAndGlyphs">VINYL</text>
<text x="561.3" y="567" text-anchor="middle" textLength="37.7" lengthAdjust="spacingAndGlyphs">LINEN</text>
<text text-anchor="middle" textLength="20" lengthAdjust="spacingAndGlyphs" transform="translate(562.5 591.8) rotate(10)">1-6</text>
<text text-anchor="middle" textLength="24.6" lengthAdjust="spacingAndGlyphs" transform="translate(628.3 592.4) rotate(4)">2-0</text>
<text x="808.4" y="537.6" text-anchor="middle" font-size="11" textLength="23.6" lengthAdjust="spacingAndGlyphs">W.I.C.</text>
<text x="807.8" y="550.4" text-anchor="middle" textLength="46" lengthAdjust="spacingAndGlyphs">CARPET</text>
<text x="938.7" y="468" text-anchor="middle" textLength="37.7" lengthAdjust="spacingAndGlyphs">LINEN</text>
<text x="938.7" y="485.6" text-anchor="middle" textLength="24.6" lengthAdjust="spacingAndGlyphs">2-0</text>
<text x="976.2" y="522.9" text-anchor="middle" textLength="87.9" lengthAdjust="spacingAndGlyphs">PRIMARY BATH</text>
<text x="976" y="535.3" text-anchor="middle" textLength="31.6" lengthAdjust="spacingAndGlyphs">VINYL</text>
<text text-anchor="middle" textLength="24" lengthAdjust="spacingAndGlyphs" transform="translate(893.3 527.8) rotate(-102)">2-6</text>
<text text-anchor="middle" textLength="24" lengthAdjust="spacingAndGlyphs" transform="translate(1105.6 524.9) rotate(-98)">2-4</text>
<text x="1133.4" y="512.1" textLength="156.3" lengthAdjust="spacingAndGlyphs">GLASS SHOWER DOOR</text>
<text x="781.3" y="675.2" text-anchor="middle" textLength="56" lengthAdjust="spacingAndGlyphs">CARPET</text>
<text x="596.4" y="903.4" text-anchor="middle" textLength="56" lengthAdjust="spacingAndGlyphs">CARPET</text>
<text text-anchor="middle" textLength="18" lengthAdjust="spacingAndGlyphs" transform="translate(557.2 693) rotate(-90)">DN</text>
<text text-anchor="middle" textLength="89.3" lengthAdjust="spacingAndGlyphs" transform="translate(439.2 792.8) rotate(-90)">5-0 BI-FOLD</text>
<text x="344.4" y="844.4" text-anchor="middle" textLength="73" lengthAdjust="spacingAndGlyphs">BEDROOM #4</text>
<text x="344" y="856.7" text-anchor="middle" textLength="46" lengthAdjust="spacingAndGlyphs">CARPET</text>
<text text-anchor="middle" textLength="89.5" lengthAdjust="spacingAndGlyphs" transform="translate(760.8 792.6) rotate(-90)">5-0 BI-FOLD</text>
<text x="842.5" y="823.9" text-anchor="middle" textLength="73" lengthAdjust="spacingAndGlyphs">BEDROOM #2</text>
<text x="841.7" y="836.6" text-anchor="middle" textLength="46" lengthAdjust="spacingAndGlyphs">CARPET</text>
<text x="1032" y="697.4" text-anchor="middle" textLength="90.3" lengthAdjust="spacingAndGlyphs">5-0 BI-FOLD</text>
<text text-anchor="middle" textLength="24" lengthAdjust="spacingAndGlyphs" transform="translate(1105.8 666) rotate(-95)">2-6</text>
<text text-anchor="middle" textLength="24" lengthAdjust="spacingAndGlyphs" transform="translate(511.5 936) rotate(-106)">2-6</text>
<text text-anchor="middle" textLength="24" lengthAdjust="spacingAndGlyphs" transform="translate(688.8 935.8) rotate(-83)">2-6</text>
<text text-anchor="middle" textLength="24" lengthAdjust="spacingAndGlyphs" transform="translate(512.3 623.2) rotate(-74)">2-6</text>
<text text-anchor="middle" textLength="30" lengthAdjust="spacingAndGlyphs" transform="translate(524.6 626.8) rotate(-74)">3'-2&quot;</text>
<text x="1278.1" y="664.4" text-anchor="middle" textLength="116.2" lengthAdjust="spacingAndGlyphs">PRIMARY BEDROOM</text>
<text x="1276.9" y="677.2" text-anchor="middle" textLength="46" lengthAdjust="spacingAndGlyphs">CARPET</text>
<text x="1181.8" y="802" textLength="62.5" lengthAdjust="spacingAndGlyphs">INSULATE</text>
<text x="1079.5" y="917.2" textLength="60.5" lengthAdjust="spacingAndGlyphs">7/16 OSB</text>
<text x="1079.5" y="932.3" textLength="72.6" lengthAdjust="spacingAndGlyphs">THIS AREA</text>
<text x="1174.4" y="908.4" textLength="89.4" lengthAdjust="spacingAndGlyphs">TWIN 2-4X4-4</text>
<text x="1223" y="947.2" textLength="129.5" lengthAdjust="spacingAndGlyphs">TRUSSES BEAR ON</text>
<text x="1250.4" y="962.9" textLength="101.1" lengthAdjust="spacingAndGlyphs">12&quot; PONY WALL</text>
<text text-anchor="middle" textLength="94.4" lengthAdjust="spacingAndGlyphs" transform="translate(1481 603.5) rotate(-90)">TWIN 3-0X5-0</text>
<text x="281.6" y="391.4" text-anchor="middle" textLength="61.8" lengthAdjust="spacingAndGlyphs">3-0X5-0</text>
<text x="633.7" y="375.7" text-anchor="middle" textLength="73.6" lengthAdjust="spacingAndGlyphs">TEMPERED</text>
<text x="633.2" y="391.4" text-anchor="middle" textLength="57.9" lengthAdjust="spacingAndGlyphs">2-8X3-0</text>
<text x="1041.2" y="375.7" text-anchor="middle" textLength="73.6" lengthAdjust="spacingAndGlyphs">TEMPERED</text>
<text x="1041.2" y="391.4" text-anchor="middle" textLength="57.3" lengthAdjust="spacingAndGlyphs">4-0X1-0</text>
<text text-anchor="middle" textLength="61.8" lengthAdjust="spacingAndGlyphs" transform="translate(198 590) rotate(-90)">3-0X5-0</text>
<text text-anchor="middle" textLength="61.8" lengthAdjust="spacingAndGlyphs" transform="translate(198 902.5) rotate(-90)">3-0X5-0</text>
<text x="281.6" y="997.6" text-anchor="middle" textLength="59" lengthAdjust="spacingAndGlyphs">2-4X5-0</text>
<text x="402.3" y="997.6" text-anchor="middle" textLength="73.6" lengthAdjust="spacingAndGlyphs">TEMPERED</text>
<text x="402.3" y="1013.3" text-anchor="middle" textLength="59" lengthAdjust="spacingAndGlyphs">2-4X5-0</text>
<text x="586.6" y="1042.8" text-anchor="middle" textLength="59" lengthAdjust="spacingAndGlyphs">2-4X5-0</text>
<text x="771.1" y="997.6" text-anchor="middle" textLength="73.6" lengthAdjust="spacingAndGlyphs">TEMPERED</text>
<text x="771.1" y="1013.3" text-anchor="middle" textLength="59" lengthAdjust="spacingAndGlyphs">2-4X5-0</text>
<text x="891.4" y="997.6" text-anchor="middle" textLength="59" lengthAdjust="spacingAndGlyphs">2-4X5-0</text>
<text text-anchor="middle" textLength="61.8" lengthAdjust="spacingAndGlyphs" transform="translate(984.8 938.2) rotate(-90)">3-0X5-0</text>
<text x="739.2" y="1186" font-size="21.7" textLength="272.4" lengthAdjust="spacingAndGlyphs" font-weight="bold">SECOND FLOOR PLAN</text>
<text x="739.6" y="1201.5" font-size="12.8" textLength="140.2" lengthAdjust="spacingAndGlyphs" font-weight="bold">SCALE: 3/16&quot;=1'-0&quot;</text>
<text x="1443.8" y="129.2" text-anchor="middle" font-size="21" textLength="328.3" lengthAdjust="spacingAndGlyphs">2ND FLOOR LIGHTING SCHEDULE</text>
<text x="1321.6" y="152.7" text-anchor="middle" font-size="13" textLength="43" lengthAdjust="spacingAndGlyphs" class="sb">ROOM</text>
<text x="1482.5" y="152.7" text-anchor="middle" font-size="13" textLength="57" lengthAdjust="spacingAndGlyphs" class="sb">FIXTURE</text>
<text x="1603.9" y="152.7" text-anchor="middle" font-size="13" textLength="27" lengthAdjust="spacingAndGlyphs" class="sb">QTY</text>
<text x="1321.6" y="171.8" text-anchor="middle" font-size="13" textLength="92.4" lengthAdjust="spacingAndGlyphs" class="sb">PRIMARY W.I.C.</text>
<text x="1390.1" y="171.8" font-size="13" textLength="126.6" lengthAdjust="spacingAndGlyphs" class="sb">FLUSH MOUNT LED</text>
<text x="1603.9" y="171.8" text-anchor="middle" font-size="13" class="sb">1</text>
<text x="1390.1" y="192.3" font-size="13" textLength="183.7" lengthAdjust="spacingAndGlyphs" class="sb">2 BULB BATHROOM LIGHT</text>
<text x="1603.9" y="192.3" text-anchor="middle" font-size="13" class="sb">2</text>
<text x="1390.1" y="212.7" font-size="13" textLength="126.6" lengthAdjust="spacingAndGlyphs" class="sb">FLUSH MOUNT LED</text>
<text x="1603.9" y="212.7" text-anchor="middle" font-size="13" class="sb">1</text>
<text x="1321.6" y="233.2" text-anchor="middle" font-size="13" textLength="98" lengthAdjust="spacingAndGlyphs" class="sb">PRIMARY BEDROOM</text>
<text x="1390.1" y="233.2" font-size="13" textLength="87.6" lengthAdjust="spacingAndGlyphs" class="sb">CEILING FAN</text>
<text x="1603.9" y="233.2" text-anchor="middle" font-size="13" class="sb">1</text>
<text x="1321.6" y="253.7" text-anchor="middle" font-size="13" textLength="81.6" lengthAdjust="spacingAndGlyphs" class="sb">BEDROOM #2</text>
<text x="1390.1" y="253.7" font-size="13" textLength="126.6" lengthAdjust="spacingAndGlyphs" class="sb">FLUSH MOUNT LED</text>
<text x="1603.9" y="253.7" text-anchor="middle" font-size="13" class="sb">1</text>
<text x="1321.6" y="274.1" text-anchor="middle" font-size="13" textLength="81.6" lengthAdjust="spacingAndGlyphs" class="sb">BEDROOM #3</text>
<text x="1390.1" y="274.1" font-size="13" textLength="126.6" lengthAdjust="spacingAndGlyphs" class="sb">FLUSH MOUNT LED</text>
<text x="1603.9" y="274.1" text-anchor="middle" font-size="13" class="sb">1</text>
<text x="1321.6" y="294.6" text-anchor="middle" font-size="13" textLength="81.6" lengthAdjust="spacingAndGlyphs" class="sb">BEDROOM #4</text>
<text x="1390.1" y="294.6" font-size="13" textLength="126.6" lengthAdjust="spacingAndGlyphs" class="sb">FLUSH MOUNT LED</text>
<text x="1603.9" y="294.6" text-anchor="middle" font-size="13" class="sb">1</text>
<text x="1321.6" y="315.1" text-anchor="middle" font-size="13" textLength="81" lengthAdjust="spacingAndGlyphs" class="sb">HALL BATH</text>
<text x="1390.1" y="315.1" font-size="13" textLength="185.3" lengthAdjust="spacingAndGlyphs" class="sb">4 BULB BATHROOM LIGHT</text>
<text x="1603.9" y="315.1" text-anchor="middle" font-size="13" class="sb">1</text>
<text x="1321.6" y="335.6" text-anchor="middle" font-size="13" textLength="65.4" lengthAdjust="spacingAndGlyphs" class="sb">HALLWAY</text>
<text x="1390.1" y="335.6" font-size="13" textLength="126.6" lengthAdjust="spacingAndGlyphs" class="sb">FLUSH MOUNT LED</text>
<text x="1603.9" y="335.6" text-anchor="middle" font-size="13" class="sb">3</text>
<text x="1321.6" y="356" text-anchor="middle" font-size="13" textLength="48.8" lengthAdjust="spacingAndGlyphs" class="sb">UTILITY</text>
<text x="1390.1" y="356" font-size="13" textLength="126.6" lengthAdjust="spacingAndGlyphs" class="sb">FLUSH MOUNT LED</text>
<text x="1603.9" y="356" text-anchor="middle" font-size="13" class="sb">1</text>
<text x="1321.6" y="202.9" text-anchor="middle" font-size="13" textLength="97.6" lengthAdjust="spacingAndGlyphs" class="sb">PRIMARY BATH</text>
<text x="1862.3" y="114.7" text-anchor="middle" font-size="16.5" textLength="123" lengthAdjust="spacingAndGlyphs" class="sb">GENERAL NOTES</text>
<text x="1778.1" y="145.8" font-size="14.5" textLength="54" lengthAdjust="spacingAndGlyphs" class="sb">FINISHED</text>
<text x="1778.1" y="166" font-size="14.5" textLength="63.5" lengthAdjust="spacingAndGlyphs" class="sb">1ST FLOOR</text>
<text x="1949.2" y="166" text-anchor="end" font-size="14.5" textLength="61.5" lengthAdjust="spacingAndGlyphs" class="sb">902 SQ.FT.</text>
<text x="1778.1" y="186.5" font-size="14.5" textLength="70" lengthAdjust="spacingAndGlyphs" class="sb">2ND FLOOR</text>
<text x="1949.2" y="186.5" text-anchor="end" font-size="14.5" textLength="64" lengthAdjust="spacingAndGlyphs" class="sb">1,325 SQ.FT.</text>
<text x="1778.1" y="206.8" font-size="14.5" textLength="34" lengthAdjust="spacingAndGlyphs" class="sb">ATTIC</text>
<text x="1778.1" y="227.3" font-size="14.5" textLength="39" lengthAdjust="spacingAndGlyphs" class="sb">TOTAL</text>
<text x="1949.2" y="227.3" text-anchor="end" font-size="14.5" textLength="67" lengthAdjust="spacingAndGlyphs" class="sb">2,227 SQ.FT.</text>
<text x="1778.1" y="288.2" font-size="14.5" textLength="68" lengthAdjust="spacingAndGlyphs" class="sb">UNFINISHED</text>
<text x="1778.1" y="308.5" font-size="14.5" textLength="53" lengthAdjust="spacingAndGlyphs" class="sb">GARAGE</text>
<text x="1949.2" y="308.5" text-anchor="end" font-size="14.5" textLength="62" lengthAdjust="spacingAndGlyphs" class="sb">484 SQ.FT.</text>
<text x="1778.1" y="329" font-size="14.5" textLength="64.5" lengthAdjust="spacingAndGlyphs" class="sb">BASEMENT</text>
<text x="1778.1" y="349.2" font-size="14.5" textLength="34" lengthAdjust="spacingAndGlyphs" class="sb">ATTIC</text>
<text x="1778.1" y="369.7" font-size="14.5" textLength="86" lengthAdjust="spacingAndGlyphs" class="sb">ATTACHMENTS</text>
<text x="1778.1" y="389.9" font-size="14.5" textLength="88" lengthAdjust="spacingAndGlyphs" class="sb">FRONT PORCH</text>
<text x="1949.2" y="389.9" text-anchor="end" font-size="14.5" textLength="58" lengthAdjust="spacingAndGlyphs" class="sb">186 SQ.FT.</text>
<text x="1778.1" y="410.5" font-size="14.5" textLength="35.5" lengthAdjust="spacingAndGlyphs" class="sb">DECK</text>
<text x="1949.2" y="410.5" text-anchor="end" font-size="14.5" textLength="58" lengthAdjust="spacingAndGlyphs" class="sb">140 SQ.FT.</text>
<text x="1793.2" y="433.7" text-anchor="middle" font-size="13" textLength="21" lengthAdjust="spacingAndGlyphs" class="sb">NO:</text>
<text x="1859.2" y="433.7" text-anchor="middle" font-size="13" textLength="57" lengthAdjust="spacingAndGlyphs" class="sb">REVISION</text>
<text x="1928" y="433.7" text-anchor="middle" font-size="13" textLength="33" lengthAdjust="spacingAndGlyphs" class="sb">DATE</text>
<text text-anchor="middle" font-size="56" textLength="243" lengthAdjust="spacingAndGlyphs" class="th1" transform="translate(1859.3 681) rotate(-90)">THE ROSS</text>
<text text-anchor="middle" font-size="33" textLength="346" lengthAdjust="spacingAndGlyphs" class="th2" transform="translate(1895.7 681.5) rotate(-90)">AMICK WOODS LOT #1</text>
<text x="1801.7" y="976.5" font-size="66" textLength="146.7" lengthAdjust="spacingAndGlyphs" class="lg">Liberty</text>
<text x="1846.6" y="1007.7" font-size="36" textLength="64.6" lengthAdjust="spacingAndGlyphs" class="lg">Homes</text>
<text x="1872.3" y="1020.2" font-size="19" textLength="71.7" lengthAdjust="spacingAndGlyphs" class="lg2">of Virginia</text>
<text x="1862.5" y="1048" text-anchor="middle" font-size="11" textLength="166" lengthAdjust="spacingAndGlyphs" font-weight="bold">8249 CROWN COLONY PARKWAY</text>
<text x="1862.5" y="1060.7" text-anchor="middle" font-size="11" textLength="136" lengthAdjust="spacingAndGlyphs" font-weight="bold">MECHANICSVILLE, VA 23116</text>
<text x="1862.5" y="1074" text-anchor="middle" font-size="11" textLength="120" lengthAdjust="spacingAndGlyphs" font-weight="bold">PHONE (804) 730-7770</text>
<text x="1862.5" y="1086.7" text-anchor="middle" font-size="11" textLength="122" lengthAdjust="spacingAndGlyphs" font-weight="bold">www.LibertyHomesVA.com</text>
<text x="1777" y="1109.8" font-size="13" textLength="38" lengthAdjust="spacingAndGlyphs" font-weight="bold">DATE:</text>
<text x="1950.4" y="1109.8" text-anchor="end" font-size="13" textLength="88" lengthAdjust="spacingAndGlyphs" font-weight="bold">APRIL 15, 2025</text>
<text x="1777" y="1127.3" font-size="13" textLength="70" lengthAdjust="spacingAndGlyphs" font-weight="bold">DRAWN BY:</text>
<text x="1950.4" y="1127.3" text-anchor="end" font-size="13" textLength="26" lengthAdjust="spacingAndGlyphs" font-weight="bold">RAK</text>
<text x="1777" y="1144.7" font-size="13" textLength="44" lengthAdjust="spacingAndGlyphs" font-weight="bold">SCALE:</text>
<text x="1950.4" y="1144.7" text-anchor="end" font-size="13" textLength="73" lengthAdjust="spacingAndGlyphs" font-weight="bold">3/16&quot; = 1'-0&quot;</text>
<text x="1862.5" y="1231.5" text-anchor="middle" font-size="60" class="sr">3</text>
<text x="1862.5" y="1254.7" text-anchor="middle" font-size="10" textLength="27" lengthAdjust="spacingAndGlyphs" font-weight="bold">SHEET</text>
<text x="1862.5" y="1268.3" text-anchor="middle" font-size="10" textLength="28" lengthAdjust="spacingAndGlyphs" font-weight="bold">3 OF 11</text>
<text x="1240.8" y="1224.3" font-size="13" textLength="480" lengthAdjust="spacingAndGlyphs" class="sb">NOTE: THESE PLANS ARE DEEMED ACCURATE BUT ARE SUBJECT TO FIELD</text>
<text x="1240.8" y="1240.3" font-size="13" textLength="460.4" lengthAdjust="spacingAndGlyphs" class="sb">CHANGES DUE TO CODE REQUIREMENTS AND MECHANICAL SUITABILITY.</text>
<text x="1240.8" y="1256.5" font-size="13" textLength="437.6" lengthAdjust="spacingAndGlyphs" class="sb">PLEASE CONSULT SALES CONTRACT FOR ACTUAL OPTIONS CHOSEN.</text>
<text x="1240.8" y="1273" font-size="13" textLength="417.2" lengthAdjust="spacingAndGlyphs" class="sb">BUILDER RESERVES THE RIGHT TO MAKE CHANGES AT ANY TIME.</text>
<text x="2008" y="1310.5" text-anchor="middle" font-size="20" font-weight="bold" fill="#fff" stroke="none" textLength="58.6" lengthAdjust="spacingAndGlyphs">CAAR</text>
</g></svg>
</body></html>
